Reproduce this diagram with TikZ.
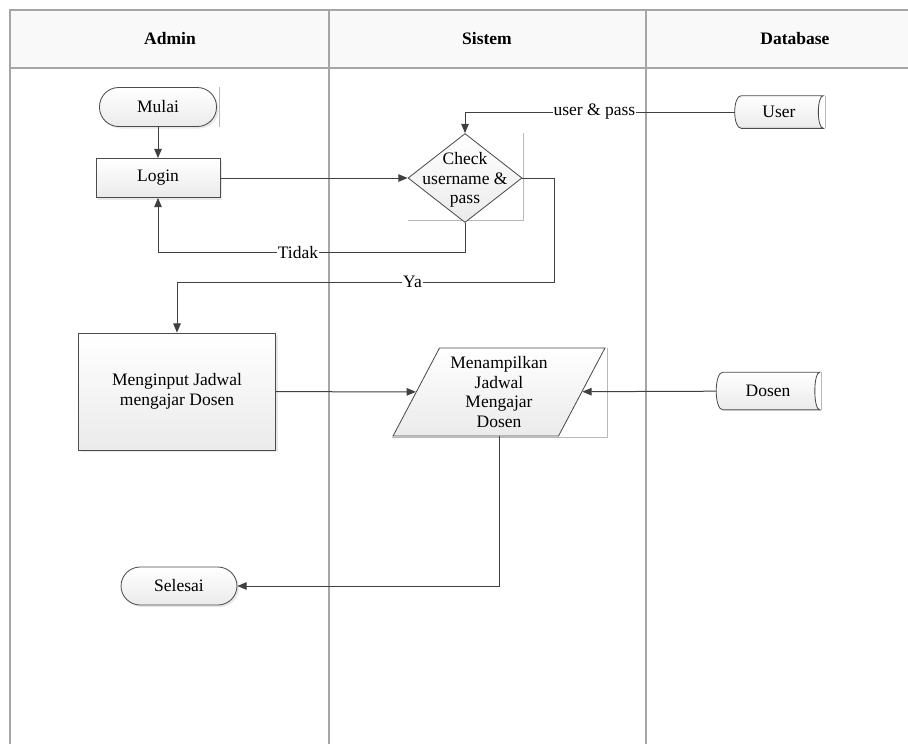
\documentclass[tikz,border=0pt]{standalone}
\usepackage{fontspec}
\setmainfont{Liberation Serif}
\usepackage{xcolor}
\usepackage{tikz}
\usetikzlibrary{calc}
\usetikzlibrary{arrows.meta,shapes.geometric,shadows,backgrounds}

\tikzset{
  lane/.style={draw=gray!70, line width=0.7pt},
  boxfill/.style={draw=black!70, line width=0.5pt, top color=white, bottom color=gray!16},
  softshadow/.style={drop shadow={opacity=0.18, shadow xshift=1.2pt, shadow yshift=-1.2pt}},
  terminal/.style={boxfill, softshadow, rectangle, rounded corners=11.5pt, minimum width=70.2pt, minimum height=23.4pt},
  process/.style={boxfill, softshadow, rectangle, minimum width=74.4pt, minimum height=23.4pt},
  decision/.style={boxfill, diamond, minimum width=68.4pt, minimum height=53.4pt, inner sep=0pt},
  inout/.style={boxfill, trapezium, trapezium left angle=62, trapezium right angle=118,
    trapezium stretches=true, minimum width=127.2pt, minimum height=52.8pt, inner sep=0pt, align=center},
  storetext/.style={rectangle, inner sep=0pt},
  flow/.style={draw=black!75, line width=0.6pt, -{Triangle[length=5.5pt,width=4.5pt]}},
  flowlabel/.style={fill=white, inner sep=0.6pt},
  shadowline/.style={draw=gray!55, line width=0.6pt},
}

% outline of a stored data shape round a node
\newcommand{\storeoutline}[1]{%
  \draw[boxfill] ([xshift=4pt]#1.north west) -- (#1.north east)
    .. controls ([xshift=-4pt]#1.north east) and ([xshift=-4pt]#1.south east) .. (#1.south east)
    -- ([xshift=4pt]#1.south west)
    .. controls ([xshift=-1.3pt]#1.south west) and ([xshift=-1.3pt]#1.north west) .. cycle;
  \draw[shadowline] ([xshift=1pt]#1.north east) -- ([xshift=1pt]#1.south east);
}

\begin{document}
\begin{tikzpicture}[x=0.6pt, y=-0.6pt, font=\fontsize{10.5}{11.8}\selectfont]
\useasboundingbox (0,0) rectangle (908,744);

% Lanes
\fill[gray!5] (10,10) rectangle (908,68);
\draw[lane] (908,10) -- (10,10) -- (10,744);
\draw[lane] (10,68) -- (908,68);
\draw[lane] (329,10) -- (329,744);
\draw[lane] (646,10) -- (646,744);
\node[font=\fontsize{10.5}{12}\selectfont\bfseries] (hadmin) at (170,39) {Admin};
\node[font=\fontsize{10.5}{12}\selectfont\bfseries] (hsistem) at (487,39) {Sistem};
\node[font=\fontsize{10.5}{12}\selectfont\bfseries] (hdb) at (795,39) {Database};

% Shapes
\node[terminal] (mulai) at (158,107) {Mulai};
\node[process] (login) at (158,178) {Login};
\node[decision] (check) at (465,178) {};
\node[align=center] (checktext) at (465,180) {Check\\username \&\\pass};
\node[storetext, minimum width=52.8pt, minimum height=19.2pt] (user) at (779,112) {User};
\node[process, minimum width=118.2pt, minimum height=70.2pt, align=center] (input) at (177,391.5) {Menginput Jadwal\\mengajar Dosen};
\node[inout] (tampil) at (499,392) {Menampilkan\\Jadwal\\Mengajar\\Dosen};
\node[storetext, minimum width=61.8pt, minimum height=22.2pt] (dosen) at (768,391) {Dosen};
\node[terminal, minimum width=69.6pt, minimum height=22.8pt] (selesai) at (179,586) {Selesai};

% Shadows and stored data outlines
\begin{scope}[on background layer]
\storeoutline{user}
\storeoutline{dosen}
\draw[shadowline] ([xshift=1.5pt]mulai.north east) -- ([xshift=1.5pt]mulai.south east);
\draw[shadowline] ($(check.east |- check.north)+(1,0)$) -- ($(check.east |- check.south)+(1,-2)$) -- ($(check.west |- check.south)+(0,-2)$);
\draw[shadowline] ($(tampil.top right corner)+(1.5,0)$) -- ($(tampil.top right corner |- tampil.bottom left corner)+(1.5,1)$) -- ($(tampil.bottom left corner)+(0,1)$);
\end{scope}

% Connectors
\draw[flow] (mulai) -- (login);
\draw[flow] (login) -- (check);
\draw[flow] (user.west) -| (check.north) node[flowlabel, pos=0.26] {user \& pass};
\draw[flow] (check.south) -- ++(0,30) -| (login.south) node[flowlabel, pos=0.272] {Tidak};
\draw[flow] (check.east) -- ++(32,0) -- ++(0,104) -| (input.north) node[flowlabel, pos=0.188] {Ya};
\draw[flow] (input) -- (tampil);
\draw[flow] (dosen) -- (tampil);
\draw[flow] (tampil.center |- tampil.south) |- (selesai.east);
\end{tikzpicture}
\end{document}
